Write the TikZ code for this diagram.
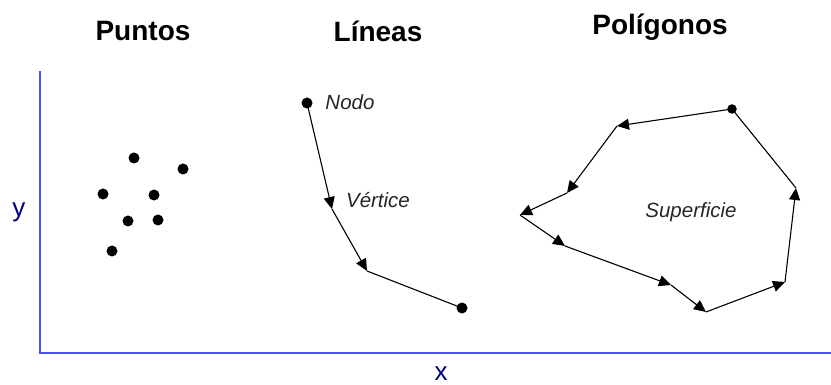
\documentclass[tikz,border=0pt]{standalone}
\usepackage{fontspec}
\setmainfont{Liberation Sans}
\usetikzlibrary{arrows.meta}

\begin{document}
\begin{tikzpicture}[x=1pt,y=-1pt,-{Triangle[length=12pt,width=11pt]},line width=1.1pt]
  \tikzstyle{punto}=[circle, fill=black, inner sep=0pt, minimum size=11pt]
  \tikzstyle{titulo}=[font=\fontsize{28}{30}\selectfont\bfseries]
  \tikzstyle{etiqueta}=[font=\fontsize{20.5}{23}\selectfont\itshape, text=black!85]
  \tikzstyle{eje}=[draw=blue!70!white, line width=1.3pt, -]
  \tikzstyle{nombre eje}=[font=\fontsize{26}{28}\selectfont, text=blue!50!black,
                          inner sep=0pt, anchor=base]

 \useasboundingbox (0,0) rectangle (831,385);

 % ejes
 \coordinate (origen) at (40,353);
 \coordinate (tope) at (40,71);
 \coordinate (fin) at (831,353);
 \draw[eje] (tope) -- (origen) -- (fin);
 \node[nombre eje] (ey) at (19,217) {y};
 \node[nombre eje] (ex) at (441,380) {x};

 % titulos
 \node[titulo] (t_pun) at (143,31) {Puntos};
 \node[titulo] (t_lin) at (378,31) {Líneas};
 \node[titulo] (t_pol) at (660,27) {Polígonos};

 % puntos
 \node[punto] (p1) at (134,158) {};
 \node[punto] (p2) at (183,169) {};
 \node[punto] (p3) at (103,194) {};
 \node[punto] (p4) at (154,195) {};
 \node[punto] (p5) at (128,221) {};
 \node[punto] (p6) at (158,220) {};
 \node[punto] (p7) at (112,251) {};

 % linea
 \node[punto] (l_ini) at (307,103) {};
 \coordinate (l_v1) at (332,209);
 \coordinate (l_v2) at (367,271);
 \node[punto] (l_fin) at (462,308) {};
 \node[etiqueta] (nodo) at (350,102) {Nodo};
 \node[etiqueta] (vert) at (378,200) {Vértice};

 \path (l_ini.center) edge (l_v1)
       (l_v1) edge (l_v2)
       (l_v2) edge[-] (l_fin.center);

 % poligono
 \node[punto, minimum size=9.5pt] (q0) at (732,109) {};
 \coordinate (q1) at (617,126);
 \coordinate (q2) at (567,193);
 \coordinate (q3) at (520,215);
 \coordinate (q4) at (565,246);
 \coordinate (q5) at (671,285);
 \coordinate (q6) at (706,312);
 \coordinate (q7) at (785,282);
 \coordinate (q8) at (796,188);
 \node[etiqueta] (sup) at (691,212) {Superficie};

 \path (q0.center) edge (q1)
       (q1) edge (q2)
       (q2) edge (q3)
       (q3) edge (q4)
       (q4) edge (q5)
       (q5) edge (q6)
       (q6) edge (q7)
       (q7) edge (q8)
       (q8) edge[-] (q0.center);

\end{tikzpicture}
\end{document}
